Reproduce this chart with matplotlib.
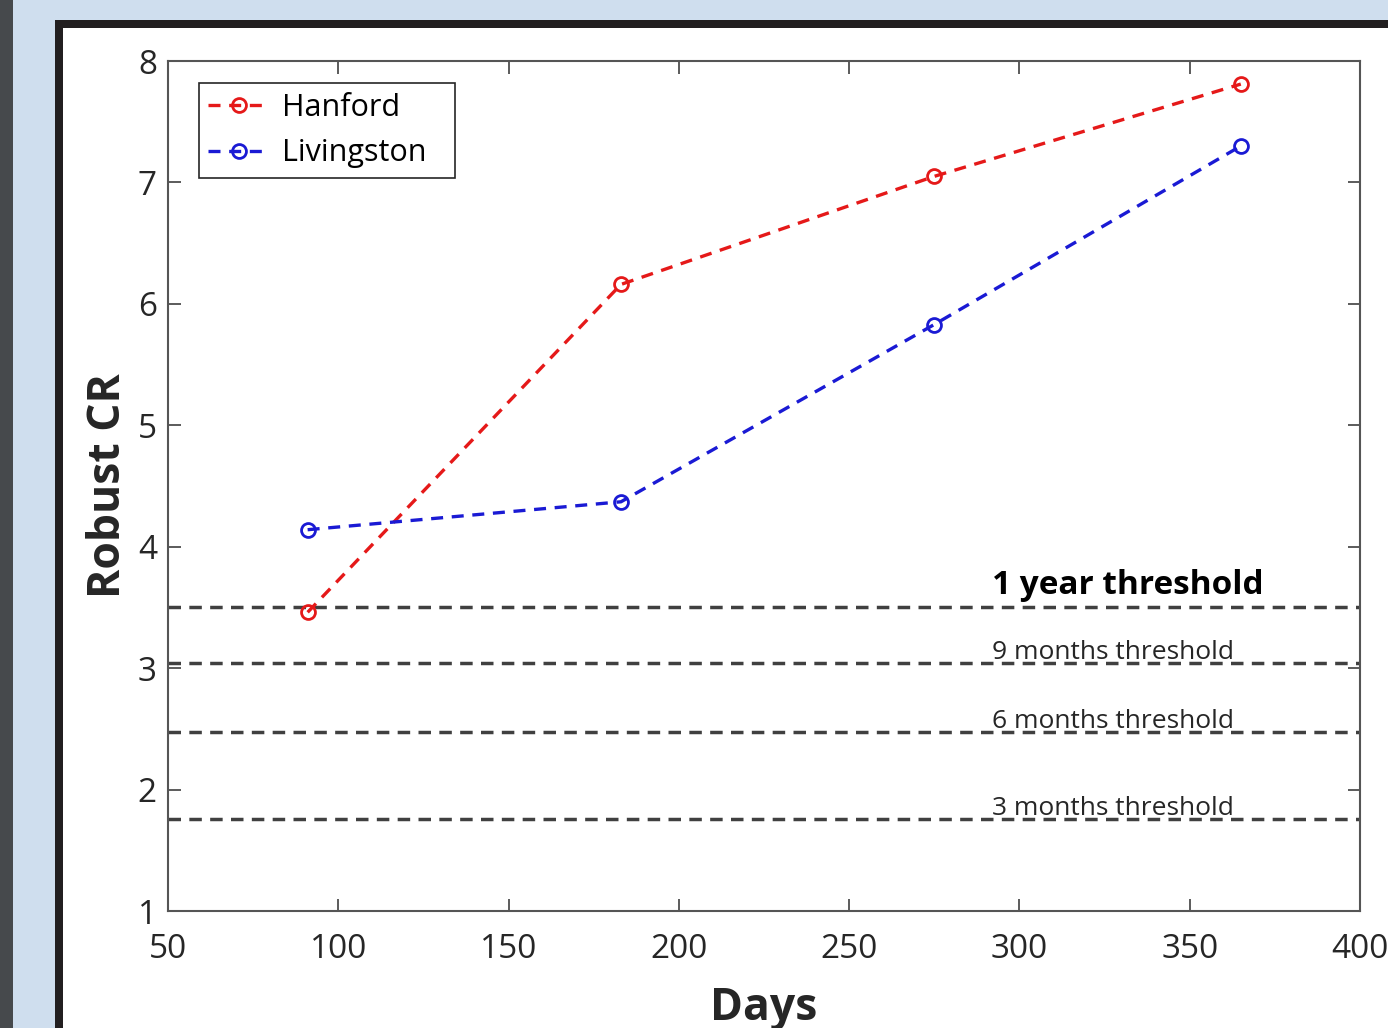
import matplotlib
matplotlib.use("Agg")
import matplotlib.pyplot as plt
from matplotlib.patches import Rectangle

plt.rcParams['font.family'] = ['Open Sans', 'DejaVu Sans']

days = [91, 183, 275, 365]
hanford = [3.46, 6.16, 7.05, 7.81]
livingston = [4.14, 4.37, 5.83, 7.30]

thresholds = [3.50, 3.04, 2.47, 1.76]
threshold_labels = ["1 year threshold", "9 months threshold",
                    "6 months threshold", "3 months threshold"]

W, H = 1388, 1028
fig = plt.figure(figsize=(W / 100, H / 100), dpi=100)
fig.patch.set_facecolor("#cfdeee")

# window frame around the figure (screenshot look)
fig.patches.append(Rectangle((0, 0), 13 / W, 1, transform=fig.transFigure,
                             facecolor="#46494c", edgecolor="none", zorder=-10))
fig.patches.append(Rectangle((55 / W, 0), 1, 1 - 20 / H, transform=fig.transFigure,
                             facecolor="#221f20", edgecolor="none", zorder=-10))
fig.patches.append(Rectangle((63 / W, 0), 1, 1 - 28 / H, transform=fig.transFigure,
                             facecolor="white", edgecolor="none", zorder=-9))

ax = fig.add_axes([168 / W, 1 - 911 / H, (1360 - 168) / W, (911 - 61) / H])
ax.set_zorder(5)
ax.set_facecolor("white")

for y in thresholds:
    ax.axhline(y, color="#404040", linestyle=(0, (3.6, 2.4)), linewidth=2.5, zorder=2)

ax.plot(days, hanford, color="#e51919", linestyle=(0, (3.6, 2.6)), linewidth=2.4,
        marker="o", markersize=10, markerfacecolor="none", markeredgewidth=2,
        label="Hanford", zorder=3)
ax.plot(days, livingston, color="#1a1ad4", linestyle=(0, (3.6, 2.6)), linewidth=2.4,
        marker="o", markersize=10, markerfacecolor="none", markeredgewidth=2,
        label="Livingston", zorder=3)

for i, (y, lab) in enumerate(zip(thresholds, threshold_labels)):
    if i == 0:
        ax.annotate(lab, xy=(292, y), xytext=(0, 10), textcoords="offset points",
                    fontsize=24, fontweight="bold", color="black", va="baseline")
    else:
        ax.annotate(lab, xy=(292, y), xytext=(0, 3), textcoords="offset points",
                    fontsize=19, color="#262626", va="baseline")

ax.set_xlim(50, 400)
ax.set_ylim(1, 8)
ax.set_xticks(range(50, 401, 50))
ax.set_yticks(range(1, 9))
ax.tick_params(direction="in", length=9, width=1.2, colors="#404040",
               labelsize=24, labelcolor="#262626", top=True, right=True)
ax.tick_params(axis="x", pad=16)
ax.tick_params(axis="y", pad=8)
for spine in ax.spines.values():
    spine.set_edgecolor("#555555")
    spine.set_linewidth(1.5)

ax.set_xlabel("Days", fontsize=32, fontweight="bold", color="#262626", labelpad=14)
ax.set_ylabel("Robust CR", fontsize=32, fontweight="bold", color="#262626", labelpad=5)

leg = ax.legend(loc="upper left", bbox_to_anchor=(0.026, 0.0, 0.2148, 0.974),
                mode="expand", fontsize=22, handlelength=2.0, handletextpad=0.42,
                borderpad=0.31, labelspacing=0.52, borderaxespad=0.0,
                fancybox=False, framealpha=1)
leg.get_frame().set_edgecolor("#262626")
leg.get_frame().set_linewidth(1.2)

fig.savefig("out.png", dpi=100, facecolor=fig.get_facecolor())
